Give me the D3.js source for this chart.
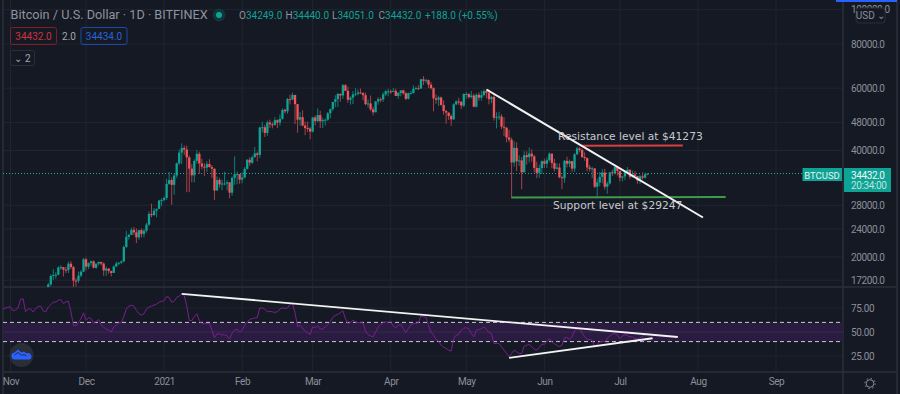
<!DOCTYPE html>
<html>
<head>
<meta charset="utf-8">
<script src="https://cdn.jsdelivr.net/npm/d3@7"></script>
<style>
  html, body { margin: 0; padding: 0; background: #151924; overflow: hidden; }
  svg { display: block; font-family: Roboto, sans-serif; }
</style>
</head>
<body>
<div id="chart"></div>
<script>
// daily candles, 15 Nov 2020 - 12 Jul 2021, one row per month
const firstOpen = 16060;
const closes = [
  15970,16730,17680,17800,17820,18680,18710,18420,18370,19150,18730,17150,17130,17720,18180,19700,
  18780,19220,19440,18650,19150,19360,19170,18320,18550,18250,18030,18800,19170,19270,19440,21350,22800,23100,23860,23480,22730,23820,23240,23720,24690,26470,26280,27040,27360,28880,29000,
  29380,32190,33000,31990,33990,36800,39470,40670,40240,38240,35540,34030,37390,39150,36770,36010,35790,36630,35910,35520,30820,33000,32090,32270,32270,32510,30400,33470,34300,34300,33100,
  33520,35510,37670,36950,38290,39250,38870,46450,46530,44850,48000,47440,47250,48720,47980,49150,52130,51620,55920,55780,57400,54090,48890,49700,47050,46300,46150,45240,
  49600,48440,50370,48370,48760,48880,50970,52380,54880,55860,57800,57230,61190,58970,55640,56420,57640,57860,58340,58100,57350,54080,54340,52300,51300,55060,55840,55780,57620,58790,58800,
  58730,58970,57060,58200,59130,58050,56000,58100,58100,59770,59980,59850,63580,62960,63200,61400,60010,56150,55660,56470,53800,51700,51200,50050,49000,54000,55040,54880,53580,57800,
  57830,56600,57200,53200,57500,56400,57350,58900,58240,55850,56700,49500,49700,49900,46700,46400,43550,42900,37000,40700,37300,37500,34700,38800,38300,39200,38500,35700,34600,35700,37300,
  36700,37570,39190,36870,35520,35800,33600,33400,37400,36700,37330,35550,39020,40530,40150,38340,38100,35820,35480,35600,31600,32500,33700,34660,31590,32280,34700,34500,35900,35040,
  33500,33790,34700,35300,33700,34220,33880,32870,33810,33510,34249,34432
];
const highs = [
  16170,16890,17860,18480,18120,18820,18960,18750,18770,19400,19480,18900,17450,18200,18350,19860,
  19920,19300,19550,19570,19170,19420,19410,19290,18790,18580,18300,18950,19400,19350,19570,21550,23700,23280,24200,24300,24100,23850,24100,24000,25000,26900,28300,27500,27400,28990,29300,
  29680,33300,34800,33600,34450,37000,40200,41900,41300,41300,38700,36600,37800,40100,39700,37900,36850,37300,37800,36400,35600,33800,33500,33100,34800,32900,32500,33800,38500,34900,34300,
  34700,35950,37800,38300,38700,40900,39700,46700,48200,47300,48600,48900,48100,49700,49000,50600,52600,52500,56300,57500,58300,57500,54200,51400,52000,48300,48300,46600,
  49800,50200,52600,51800,49500,49200,51400,52500,54900,57300,58100,58000,61700,61600,60600,56900,58900,60000,59500,59900,58500,58400,55800,57200,53200,55100,56600,56500,58400,59300,59800,
  59500,60100,59800,58500,59300,59500,58600,58300,59000,61200,60700,61200,63800,64900,63800,63500,62500,60400,57600,57100,56800,55400,52100,51200,50700,54400,55500,56400,55200,58000,
  58500,58000,58900,57900,58000,58400,59000,59500,59300,59600,57000,58000,51300,51500,50700,49700,46600,45800,43500,42500,42200,38800,38300,39800,39800,40800,40300,38900,37200,36500,37500,
  37900,38200,39500,39200,37900,36800,36800,34000,37600,38400,37700,37400,39300,41000,40900,40500,39500,38200,36400,36000,35700,33300,34800,35500,35500,32700,34700,35300,36600,36000,
  35000,33950,34900,35900,35300,35100,35000,33900,34100,34700,34600,34440
];
const lows = [
  15780,15870,16560,17220,17340,17740,18420,17620,18000,18020,18500,16190,16520,16880,17520,18130,
  18340,18490,18880,18580,18520,18930,18920,17700,17650,17920,17630,18030,18760,18950,19080,19290,21230,22380,23050,23060,21900,22370,22700,22720,23450,24500,25900,26100,25900,27330,27850,
  28700,29000,32000,28100,30000,33450,36400,36600,38800,30500,30500,32500,32500,36700,34400,35400,33900,34800,35800,33500,29000,30900,31400,30900,31900,30900,29300,29800,32000,32100,32200,
  32300,33400,35300,36200,36600,38200,37300,38100,45000,43700,44000,46300,46200,47000,46300,47000,48900,50900,50800,54000,55500,47500,44900,47000,46800,44200,45100,43000,
  45000,47100,48100,46300,46300,47100,48500,49300,51800,53000,53100,55000,56000,58900,54600,53900,54100,57000,57200,57800,55500,53700,52900,51700,50300,51300,53900,54700,54900,57000,56900,
  57800,58500,57000,56000,56900,57500,55500,55700,57700,58000,59500,59400,59800,61300,62000,60000,59500,51600,54200,53500,53600,50500,47600,48800,47000,48800,53700,53900,52400,53000,
  56000,56100,56100,53000,52900,55300,55300,56900,56200,54000,54400,48600,46200,48800,46000,43900,42200,42200,29300,36000,35000,36200,31100,34800,36500,37000,37200,34700,33400,33500,34300,
  35700,35700,37200,35600,34900,35300,33400,31100,32400,35800,35900,34800,34800,38800,39500,38100,37400,34900,34900,33400,31300,29300,31700,32300,31000,30200,32000,33900,34200,34000,
  32700,32700,33000,34600,33200,33500,33800,32200,32200,33100,33300,34051
];

const rsi = [
  73.5,75,76,76,72,73,75,84,84.6,71,74,74,70.8,74.5,76.5,77,72,70.8,76,78.4,81.2,81.2,83,84,79.5,81.5,82.2,71,57,56.3,60,64,70,62,65,64,59,61,63,57.5,55,53,52,50,55,57.5,59.5,60,66,74,77,78,77,72.5,69,67.5,69,74,76,77,78,79,81,82,82.5,87,86,81,82,86,87.4,89.8,88,77,62,62,66,69,62,58.7,58.7,58.7,58.7,52,44,48,48,47,47,46,42.5,49,52,53,50,52,57,60.5,63,64,64.5,65,75,75,74,71,71.5,71,70.5,71,74,75,74.5,75,79,79.5,70,55.5,57,
  54,50.8,49,47.3,55.3,54.6,56.6,52.9,53.2,55.3,57.7,61,65.3,67.4,68.4,70,72.2,63.9,58.7,60,62.2,60.4,59.8,59.8,59.4,50.8,47.3,46,44.9,50,55.3,57.7,59.8,60.4,60.4,60.4,56.3,54.2,57,57.7,53.6,49.4,53.6,57.7,58.7,59,59.8,66.6,66,65.3,57,50,46.7,42.2,40.4,36.3,34.2,32.8,31.1,30,43.2,46.7,47.3,51.8,54.2,54.2,53.6,48.4,44.9,51.8,52.5,53.6,55.3,52.9,49.4,48.4,38,38,38,34.6,31.1,27.7,24.2,27.7,31.1,29.4,27.7,27.7,35.3,36.3,37,34.6,32.2,31.1,33.9,37.3,37.3,39.7,43.2,39.7,37.7,36.3,34.6,36.3,43.9,44.2,42.5,44.9,51.8,53.2,53.6,49.4,44.9,42.5,42.2,41.5,34.6,37,40,
  40.4,39.7,43.2,46,47.7,48.4,46.7,43.2,46,47.3,46,44.9,44.9,43.2,42.5,43.9,45.6,47,48
];

const priceTicks = [100000, 80000, 60000, 48000, 40000, 28000, 24000, 20000, 17200];
const rsiTicks = [75, 50, 25];
const monthLabels = ["Nov", "Dec", "2021", "Feb", "Mar", "Apr", "May", "Jun", "Jul", "Aug", "Sep"];
const monthDates = ["2020-11-01", "2020-12-01", "2021-01-01", "2021-02-01", "2021-03-01", "2021-04-01",
  "2021-05-01", "2021-06-01", "2021-07-01", "2021-08-01", "2021-09-01"].map(d => new Date(d));

// drawn trend lines: [date, value] pairs
const mainTrend = [["2021-05-09", 59500], ["2021-08-03", 25865]];
const resistance = [["2021-06-16", 41273], ["2021-07-26", 41330]];
const support = [["2021-05-19", 29450], ["2021-08-12", 29540]];
const rsiUpper = [["2021-01-08", 89.8], ["2021-07-24", 44.8]];
const rsiLower = [["2021-05-18", 23], ["2021-07-14", 43.5]];

const width = 900;
const height = 394;
const right = 843;
const priceBottom = 287;
const rsiBottom = 372;
const up = "#0ea394";
const down = "#f0555a";
const gridColor = "#21252f";
const textColor = "#8b8f9a";

const svg = d3.select("#chart").append("svg")
    .attr("width", width)
    .attr("height", height);

svg.append("rect").attr("width", width).attr("height", height).attr("fill", "#151924");

const xScale = d3.scaleUtc()
    .domain([new Date("2020-11-01"), new Date("2021-09-01")])
    .range([10.5, 776]);
const yScale = d3.scaleLog()
    .domain([20000, 80000])
    .range([257, 44]);
const rsiScale = d3.scaleLinear()
    .domain([25, 75])
    .range([356, 308]);

svg.append("defs").append("clipPath").attr("id", "pricePane")
    .append("rect").attr("x", 3).attr("y", 0).attr("width", right - 3).attr("height", priceBottom);

// grid
svg.append("g").selectAll("line")
    .data(monthDates)
    .join("line")
    .attr("x1", d => xScale(d)).attr("x2", d => xScale(d))
    .attr("y1", 0).attr("y2", rsiBottom)
    .attr("stroke", gridColor);
svg.append("g").selectAll("line")
    .data(priceTicks)
    .join("line")
    .attr("x1", 3).attr("x2", right)
    .attr("y1", d => yScale(d)).attr("y2", d => yScale(d))
    .attr("stroke", gridColor);
svg.append("g").selectAll("line")
    .data(rsiTicks)
    .join("line")
    .attr("x1", 3).attr("x2", right)
    .attr("y1", d => rsiScale(d)).attr("y2", d => rsiScale(d))
    .attr("stroke", gridColor);

// frame
const frame = svg.append("g").attr("stroke", "#2b2f3a").attr("stroke-width", 1.5);
frame.append("line").attr("x1", 3).attr("x2", 3).attr("y1", 0).attr("y2", height);
frame.append("line").attr("x1", 897).attr("x2", 897).attr("y1", 0).attr("y2", height);
frame.append("line").attr("x1", right).attr("x2", right).attr("y1", 0).attr("y2", height);
frame.append("line").attr("x1", 3).attr("x2", 897).attr("y1", priceBottom).attr("y2", priceBottom);
frame.append("line").attr("x1", 3).attr("x2", 897).attr("y1", rsiBottom).attr("y2", rsiBottom);
svg.append("rect").attr("x", 836).attr("y", 0).attr("width", 61).attr("height", 2).attr("fill", "#2962ff");

// last price line
const lastPrice = closes[closes.length - 1];
svg.append("line")
    .attr("x1", 3).attr("x2", right)
    .attr("y1", yScale(lastPrice)).attr("y2", yScale(lastPrice))
    .attr("stroke", "#12b5a5")
    .attr("stroke-dasharray", "1 2");

// candles
const days = d3.utcDay.range(new Date("2020-11-15"), new Date("2021-07-13"));
const candles = days.map((date, i) => ({
    date,
    open: i === 0 ? firstOpen : closes[i - 1],
    close: closes[i],
    high: highs[i],
    low: lows[i]
}));

const candleGroup = svg.append("g").attr("clip-path", "url(#pricePane)")
    .selectAll("g")
    .data(candles)
    .join("g")
    .attr("transform", d => `translate(${xScale(d.date)},0)`);

candleGroup.append("line")
    .attr("y1", d => yScale(d.high))
    .attr("y2", d => yScale(d.low))
    .attr("stroke", d => d.close >= d.open ? "#0b7f76" : "#a8414a")
    .attr("stroke-width", 1);

candleGroup.append("rect")
    .attr("x", -1.15)
    .attr("width", 2.3)
    .attr("y", d => yScale(Math.max(d.open, d.close)))
    .attr("height", d => Math.max(1, Math.abs(yScale(d.open) - yScale(d.close))))
    .attr("fill", d => d.close >= d.open ? up : down);

// trend lines on the price pane
const priceLine = d3.line()
    .x(d => xScale(new Date(d[0])))
    .y(d => yScale(d[1]));
svg.append("path").attr("d", priceLine(resistance)).attr("fill", "none").attr("stroke", "#d8403f").attr("stroke-width", 2);
svg.append("path").attr("d", priceLine(support)).attr("fill", "none").attr("stroke", "#3f9a4c").attr("stroke-width", 2);
svg.append("path").attr("d", priceLine(mainTrend)).attr("fill", "none").attr("stroke", "#f2f2f2").attr("stroke-width", 2);

svg.append("text").attr("x", 558).attr("y", 140)
    .attr("fill", "#c8c9cd").attr("font-family", "'DejaVu Sans'").attr("font-size", 10.7)
    .text("Resistance level at $41273");
svg.append("text").attr("x", 553).attr("y", 209)
    .attr("fill", "#c8c9cd").attr("font-family", "'DejaVu Sans'").attr("font-size", 10.7)
    .text("Support level at $29247");

// RSI pane
svg.append("rect")
    .attr("x", 3).attr("width", right - 3)
    .attr("y", rsiScale(60)).attr("height", rsiScale(40) - rsiScale(60))
    .attr("fill", "#2a1b40");
svg.append("line")
    .attr("x1", 3).attr("x2", right)
    .attr("y1", rsiScale(50)).attr("y2", rsiScale(50))
    .attr("stroke", "#3b2a52");
[60, 40].forEach(level => {
    svg.append("line")
        .attr("x1", 3).attr("x2", right)
        .attr("y1", rsiScale(level)).attr("y2", rsiScale(level))
        .attr("stroke", "#c9cad0")
        .attr("stroke-dasharray", "4 3");
});

const rsiDays = d3.utcDay.range(new Date("2020-10-29"), new Date("2021-07-13"));
const rsiPath = d3.line()
    .x((d, i) => xScale(rsiDays[i]))
    .y(d => rsiScale(d));
svg.append("path")
    .attr("d", rsiPath(rsi))
    .attr("fill", "none")
    .attr("stroke", "#7a1f8e")
    .attr("stroke-width", 1);

const rsiLine = d3.line()
    .x(d => xScale(new Date(d[0])))
    .y(d => rsiScale(d[1]));
[rsiUpper, rsiLower].forEach(pts => {
    svg.append("path").attr("d", rsiLine(pts)).attr("fill", "none").attr("stroke", "#f2f2f2").attr("stroke-width", 1.8);
});

// axes
const styleAxis = g => {
    g.select(".domain").remove();
    g.selectAll(".tick line").remove();
    g.selectAll("text").attr("fill", textColor).attr("font-family", "Roboto, sans-serif")
        .attr("font-size", 10).attr("letter-spacing", -0.4);
};
svg.append("g")
    .attr("transform", `translate(${right},0)`)
    .call(d3.axisRight(yScale).tickValues(priceTicks).tickFormat(d3.format(".1f")).tickPadding(8).tickSize(0))
    .call(styleAxis);
svg.append("g")
    .attr("transform", `translate(${right},0)`)
    .call(d3.axisRight(rsiScale).tickValues(rsiTicks).tickFormat(d3.format(".2f")).tickPadding(8).tickSize(0))
    .call(styleAxis);
svg.append("g")
    .attr("transform", `translate(0,${rsiBottom})`)
    .call(d3.axisBottom(xScale).tickValues(monthDates).tickFormat((d, i) => monthLabels[i]).tickPadding(6).tickSize(0))
    .call(g => g.selectAll("text").attr("dy", "0.71em"))
    .call(styleAxis);

// header
svg.append("text").attr("x", 10.5).attr("y", 19)
    .attr("fill", "#8f939e").attr("font-size", 12.7)
    .text("Bitcoin / U.S. Dollar · 1D · BITFINEX");
svg.append("circle").attr("cx", 219).attr("cy", 15).attr("r", 6.5).attr("fill", "#10363a");
svg.append("circle").attr("cx", 219).attr("cy", 15).attr("r", 3).attr("fill", "#0ea394");

const ohlc = svg.append("text").attr("y", 19).attr("font-size", 10);
[["O", "34249.0"], ["H", "34440.0"], ["L", "34051.0"], ["C", "34432.0"]].forEach(([k, v], i) => {
    ohlc.append("tspan").attr("x", 239 + i * 46.5).attr("fill", "#8f939e").text(k);
    ohlc.append("tspan").attr("fill", up).text(v);
});
ohlc.append("tspan").attr("x", 425).attr("fill", up).text("+188.0 (+0.55%)");

const badge = (x, y, w, h, stroke, color, label) => {
    svg.append("rect").attr("x", x).attr("y", y).attr("width", w).attr("height", h).attr("rx", 2)
        .attr("fill", "none").attr("stroke", stroke);
    svg.append("text").attr("x", x + w / 2).attr("y", y + h / 2 + 3.5).attr("text-anchor", "middle")
        .attr("fill", color).attr("font-size", 10).text(label);
};
badge(10.5, 27.5, 46, 17, "#7d2027", "#c9343c", "34432.0");
svg.append("text").attr("x", 69).attr("y", 40).attr("text-anchor", "middle")
    .attr("fill", "#a4a7af").attr("font-size", 10).text("2.0");
badge(81, 27.5, 46, 17, "#1c4aa8", "#2a62d8", "34434.0");
badge(10.5, 50.5, 24, 15, "#2b2f3a", "#a4a7af", "⌄ 2");

svg.append("rect").attr("x", 856).attr("y", 8).attr("width", 29).attr("height", 15).attr("rx", 3)
    .attr("fill", "#151924").attr("stroke", "#2b2f3a");
svg.append("text").attr("x", 870.5).attr("y", 19).attr("text-anchor", "middle")
    .attr("fill", textColor).attr("font-size", 10).text("USD ⌄");

// last price tags
svg.append("rect").attr("x", 802.5).attr("y", 168).attr("width", 39.5).attr("height", 13).attr("fill", up);
svg.append("text").attr("x", 822).attr("y", 178.5).attr("text-anchor", "middle")
    .attr("fill", "#e4f3f1").attr("font-size", 9.5).text("BTCUSD");
svg.append("rect").attr("x", 844).attr("y", 168).attr("width", 47).attr("height", 24).attr("fill", up);
svg.append("text").attr("x", 851).attr("y", 178.5).attr("letter-spacing", -0.4)
    .attr("fill", "#eef7f6").attr("font-size", 10).text("34432.0");
svg.append("text").attr("x", 851).attr("y", 189).attr("letter-spacing", -0.4)
    .attr("fill", "#bfe4df").attr("font-size", 10).text("20:34:00");

// logo and settings gear
svg.append("circle").attr("cx", 21.5).attr("cy", 355).attr("r", 12).attr("fill", "#2a2e39");
svg.append("path")
    .attr("d", "M15.5 359.5 a3.5 3.5 0 0 1 -1 -7 l3.5 -3 l3.5 3 l2.5 -1 l2.5 2 a3 3 0 0 1 3 6 z")
    .attr("fill", "#2962ff");
svg.append("path")
    .attr("d", "M14.5 355 l3.5 -2.5 l3.5 3 l2.5 -1 l2.5 1.5")
    .attr("fill", "none").attr("stroke", "#2a2e39").attr("stroke-width", 1);
svg.append("circle").attr("cx", 870).attr("cy", 383.5).attr("r", 3.8)
    .attr("fill", "none").attr("stroke", textColor);
svg.append("circle").attr("cx", 870).attr("cy", 383.5).attr("r", 5.2)
    .attr("fill", "none").attr("stroke", textColor).attr("stroke-dasharray", "1.5 2.58");
</script>
</body>
</html>
